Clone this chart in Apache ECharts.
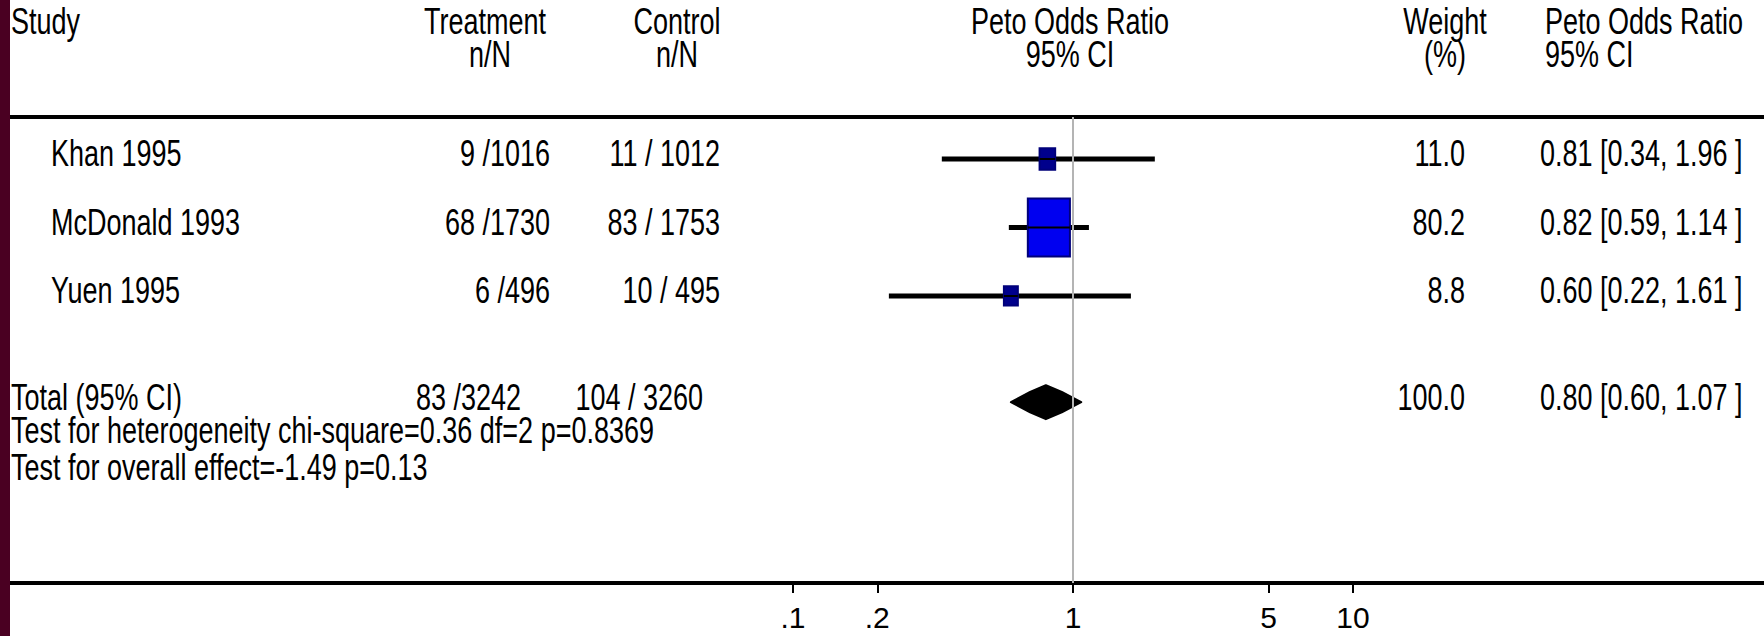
<!DOCTYPE html>
<html>
<head>
<meta charset="utf-8">
<title>Peto Odds Ratio</title>
<script src="https://cdn.jsdelivr.net/npm/echarts@6/dist/echarts.min.js"></script>
<style>
  html, body { margin: 0; padding: 0; background: #fff; }
  #chart { width: 1764px; height: 636px; }
</style>
</head>
<body>
<div id="chart"></div>
<script>
// ---- data ----
const studies = ['Khan 1995', 'McDonald 1993', 'Yuen 1995'];
const treatEvents = [9, 68, 6];
const treatTotals = [1016, 1730, 496];
const ctrlEvents = [11, 83, 10];
const ctrlTotals = [1012, 1753, 495];
const weights = [11.0, 80.2, 8.8];
const oddsRatios = [0.81, 0.82, 0.60];
const ciLower = [0.34, 0.59, 0.22];
const ciUpper = [1.96, 1.14, 1.61];

const totalLabel = 'Total (95% CI)';
const totalTreat = [83, 3242];
const totalCtrl = [104, 3260];
const totalWeight = 100.0;
const totalOR = [0.80, 0.60, 1.07]; // estimate, lower, upper

const heterogeneityText = 'Test for heterogeneity chi-square=0.36 df=2 p=0.8369';
const overallText = 'Test for overall effect=-1.49 p=0.13';

const tickValues = [0.1, 0.2, 1, 5, 10];
const tickLabels = ['.1', '.2', '1', '5', '10'];

// ---- layout ----
const studyRows = [1, 2, 3];
const totalRow = 4.55;
const FONT = "27px 'Liberation Sans', Arial, sans-serif";
const SY = 1.35;          // the source font is tall and narrow
const PX_PER_DECADE = 280;
const X_ONE = 1073;       // pixel of OR = 1
const GRID_LEFT = 10;
const W = 1764;
const xMin = Math.pow(10, -(X_ONE - GRID_LEFT) / PX_PER_DECADE);
const xMax = Math.pow(10, (W - X_ONE) / PX_PER_DECADE);

const chart = echarts.init(document.getElementById('chart'), null, { renderer: 'svg' });

function textEl(str, x, y, align) {
  return {
    type: 'text', x: x, y: y, scaleY: SY, silent: true,
    style: {
      text: str, font: FONT, fill: '#000',
      textAlign: align, align: align,
      textVerticalAlign: 'middle', verticalAlign: 'middle'
    }
  };
}

function fmtCI(est, lo, hi) {
  return est.toFixed(2) + ' [' + lo.toFixed(2) + ', ' + hi.toFixed(2) + ' ]';
}

const rowTexts = studies.map((s, i) => ({
  name: s,
  treat: treatEvents[i] + ' /' + treatTotals[i],
  ctrl: ctrlEvents[i] + ' / ' + ctrlTotals[i],
  weight: weights[i].toFixed(1),
  ci: fmtCI(oddsRatios[i], ciLower[i], ciUpper[i]),
  total: false
}));
rowTexts.push({
  name: totalLabel,
  treat: totalTreat[0] + ' /' + totalTreat[1],
  ctrl: totalCtrl[0] + ' / ' + totalCtrl[1],
  weight: totalWeight.toFixed(1),
  ci: fmtCI(totalOR[0], totalOR[1], totalOR[2]),
  total: true
});
const rowPos = studyRows.concat([totalRow]);

function renderTableRow(params, api) {
  const r = rowTexts[params.dataIndex];
  const y = api.coord([1, api.value(1)])[1] - 5;
  return {
    type: 'group',
    children: [
      textEl(r.name, r.total ? 11 : 51, y, 'left'),
      textEl(r.treat, r.total ? 521 : 550, y, 'right'),
      textEl(r.ctrl, r.total ? 703 : 720, y, 'right'),
      textEl(r.weight, 1465, y, 'right'),
      textEl(r.ci, 1540, y, 'left')
    ]
  };
}

function renderStudy(params, api) {
  const row = api.value(1);
  const mid = api.coord([api.value(0), row]);
  const lo = api.coord([api.value(2), row]);
  const hi = api.coord([api.value(3), row]);
  const side = 4.7 * Math.sqrt(api.value(4));
  const h = side * 1.38;
  const fill = side < 20 ? '#00008c' : '#0000f0';
  return {
    type: 'group',
    children: [
      { type: 'line', shape: { x1: lo[0], y1: mid[1], x2: hi[0], y2: mid[1] },
        style: { stroke: '#000', lineWidth: 5 } },
      { type: 'rect', shape: { x: mid[0] - side / 2, y: mid[1] - h / 2, width: side, height: h },
        style: { fill: fill, stroke: '#00007a', lineWidth: 2 } },
      { type: 'line', shape: { x1: mid[0] - side / 2, y1: mid[1], x2: mid[0] + side / 2, y2: mid[1] },
        style: { stroke: '#000', lineWidth: 2 } }
    ]
  };
}

function renderDiamond(params, api) {
  const row = api.value(1);
  const mid = api.coord([api.value(0), row]);
  const lo = api.coord([api.value(2), row]);
  const hi = api.coord([api.value(3), row]);
  const cy = mid[1];
  const hh = 17;
  const bl = (mid[0] - lo[0]) * 0.45;
  const br = (hi[0] - mid[0]) * 0.45;
  return {
    type: 'polygon',
    shape: {
      points: [[lo[0], cy], [mid[0] - bl, cy - hh * 0.6], [mid[0], cy - hh], [mid[0] + br, cy - hh * 0.6],
        [hi[0], cy], [mid[0] + br, cy + hh * 0.6], [mid[0], cy + hh], [mid[0] - bl, cy + hh * 0.6]]
    },
    style: { fill: '#000', stroke: '#000', lineWidth: 2, lineJoin: 'round' }
  };
}

const option = {
  animation: false,
  backgroundColor: '#fff',
  grid: { left: GRID_LEFT, right: 0, top: 117, bottom: 53, containLabel: false, outerBoundsMode: 'none' },
  xAxis: [
    {
      type: 'log', logBase: 10, min: xMin, max: xMax, position: 'bottom',
      axisLine: { show: true, lineStyle: { color: '#000', width: 4 } },
      axisTick: { show: true, length: 10, customValues: tickValues, lineStyle: { color: '#000', width: 2 } },
      minorTick: { show: false },
      axisLabel: {
        show: true, customValues: tickValues, margin: 22, color: '#000',
        fontSize: 30, lineHeight: 24,
        fontFamily: "'Liberation Sans Narrow', 'Liberation Sans', sans-serif",
        formatter: function (v) {
          const i = tickValues.findIndex(t => Math.abs(t - v) < 1e-9);
          return i >= 0 ? tickLabels[i] : '';
        }
      },
      splitLine: { show: false }
    },
    {
      type: 'value', position: 'top', min: 0, max: 1,
      axisLine: { show: true, lineStyle: { color: '#000', width: 4 } },
      axisTick: { show: false }, axisLabel: { show: false }, splitLine: { show: false }
    }
  ],
  yAxis: { type: 'value', inverse: true, min: 0.387, max: 7.19, show: false },
  series: [
    {
      type: 'custom', name: 'table', z: 1,
      data: rowPos.map(p => [1, p]),
      encode: { x: 0, y: 1 },
      renderItem: renderTableRow,
      markLine: {
        silent: true, symbol: 'none', label: { show: false },
        lineStyle: { color: '#b4b4b4', width: 2, type: 'solid' },
        data: [{ xAxis: 1 }]
      }
    },
    {
      type: 'custom', name: 'studies', z: 3,
      data: oddsRatios.map((v, i) => [v, studyRows[i], ciLower[i], ciUpper[i], weights[i]]),
      encode: { x: 0, y: 1 },
      renderItem: renderStudy
    },
    {
      type: 'custom', name: 'total', z: 3,
      data: [[totalOR[0], totalRow, totalOR[1], totalOR[2]]],
      encode: { x: 0, y: 1 },
      renderItem: renderDiamond
    }
  ],
  graphic: [
    { type: 'rect', x: 0, y: 0, z: 100, shape: { width: 10, height: 636 }, style: { fill: '#4a0022' } },
    textEl('Study', 11, 21, 'left'),
    textEl('Treatment', 485, 21, 'center'),
    textEl('n/N', 490, 54, 'center'),
    textEl('Control', 677, 21, 'center'),
    textEl('n/N', 677, 54, 'center'),
    textEl('Peto Odds Ratio', 1070, 21, 'center'),
    textEl('95% CI', 1070, 54, 'center'),
    textEl('Weight', 1445, 21, 'center'),
    textEl('(%)', 1445, 54, 'center'),
    textEl('Peto Odds Ratio', 1545, 21, 'left'),
    textEl('95% CI', 1545, 54, 'left'),
    textEl(heterogeneityText, 11, 430, 'left'),
    textEl(overallText, 11, 467, 'left')
  ]
};

chart.setOption(option);
</script>
</body>
</html>
